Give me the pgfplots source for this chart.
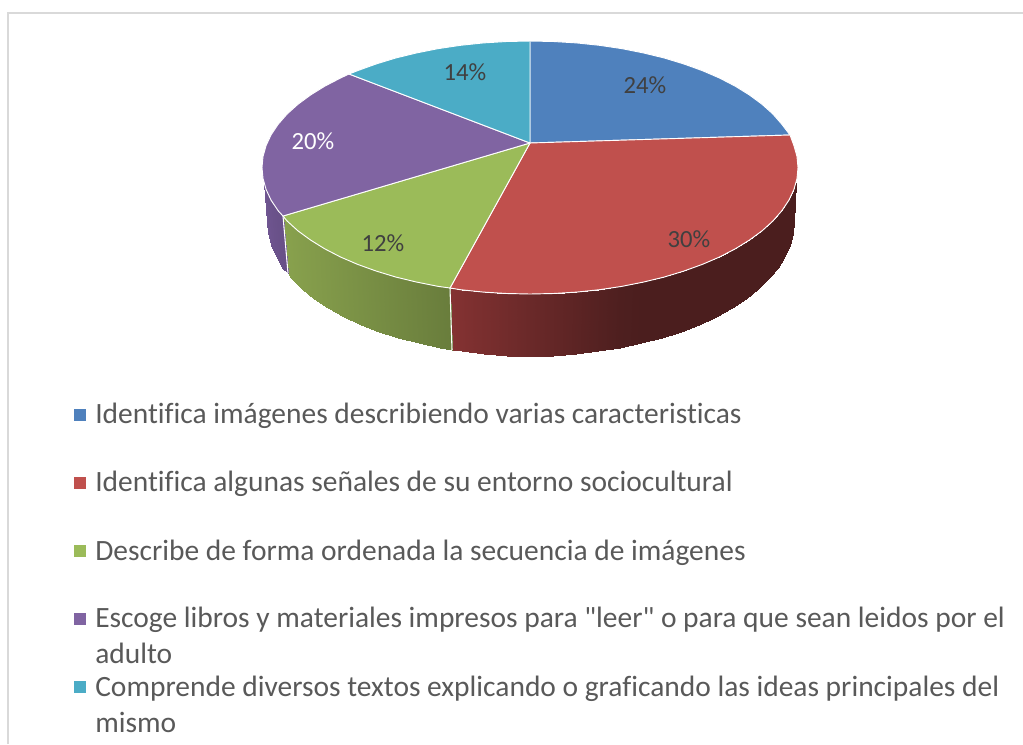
\documentclass[border=0pt]{standalone}
\usepackage{fontspec}
\setmainfont{Carlito}[Ligatures={TeXOff,NoCommon}]
\usepackage{pgfplots}
\pgfplotsset{compat=1.18}

\definecolor{cblue}{RGB}{79,129,189}
\definecolor{cred}{RGB}{192,80,77}
\definecolor{cgreen}{RGB}{155,187,89}
\definecolor{cpurple}{RGB}{128,100,162}
\definecolor{cteal}{RGB}{75,172,198}
\definecolor{labeltxt}{RGB}{64,64,64}
\definecolor{legendtxt}{RGB}{89,89,89}
\definecolor{frameline}{RGB}{217,217,217}

% everything is in reference pixels, y runs downwards
\newcommand{\pct}[3]{\node[text=#3,font=\fontsize{18.5}{21}\selectfont] at (axis cs:#1) {#2};}
\newcommand{\leg}[2]{\node[anchor=base west,text=legendtxt,font=\fontsize{22.1}{26}\selectfont,inner sep=0pt] at (axis cs:#1) {#2};}

\begin{document}
\begin{tikzpicture}
\begin{axis}[
    hide axis,
    scale only axis,
    width=767.25pt,
    height=558pt,
    xmin=0, xmax=1023,
    ymin=0, ymax=744,
    y dir=reverse,
    point meta min=0,
    point meta max=300,
    colormap={side}{
        rgb255(0pt)=(75,30,30) rgb255(100pt)=(132,50,50)
        rgb255(101pt)=(105,125,60) rgb255(200pt)=(136,161,77)
        rgb255(201pt)=(104,80,135) rgb255(300pt)=(112,86,146)
    },
]
% keep the whole canvas in the page
\path (axis cs:0,0) rectangle (axis cs:1023,744);

% frame of the chart area
\addplot[frameline,line width=1.5pt] coordinates {(8,744) (8,13) (1023,13)};

% side walls: top edge, bottom edge, shade
\addplot[surf,shader=interp,mesh/cols=2,point meta=explicit] table[meta=m] {
x y m
796 183 0
793.5 221.5 0
793.9 189.5 0
792.5 233.2 0
788.9 200.2 0
789.5 244.8 0
781.8 210.8 0
784.5 256.3 0
781.8 210.8 0
777.6 267.5 0
772.9 221 0
768.8 278.3 0
762.1 230.8 0
758.2 288.8 0
749.5 240 0
745.9 298.6 0
735.3 248.8 0
731.8 308 0
719.5 257 0
716.3 316.6 0
702.3 264.4 0
699.4 324.5 0
683.7 271.1 0
681.1 331.7 0
664 277.1 0
661.8 338 0
643.3 282.1 0
641.4 343.4 0
621.7 286.4 5
620.1 347.9 5
599.4 289.7 17
598.2 351.4 17
576.5 292.1 30
575.7 354 30
553.4 293.5 43
553 355.5 43
530 294 55
530 356 55
506.6 293.5 68
507 355.5 68
483.5 292.1 81
484.3 354 81
460.6 289.7 94
461.8 351.4 94
450 288 100
452 350 100
};
\addplot[surf,shader=interp,mesh/cols=2,point meta=explicit] table[meta=m] {
x y m
450 288 101
452 350 101
438.3 286.4 108
439.9 347.9 108
416.7 282.1 121
418.6 343.4 121
396 277.1 133
398.2 338 133
376.3 271.1 145
378.9 331.7 145
357.7 264.4 156
360.6 324.5 156
340.5 257 166
343.7 316.6 166
324.7 248.8 176
328.2 308 176
310.5 240 184
314.1 298.6 184
297.9 230.8 191
301.8 288.8 191
287.1 221 198
291.2 278.3 198
283 216 200
288 273.2 200
};
\addplot[surf,shader=interp,mesh/cols=2,point meta=explicit] table[meta=m] {
x y m
283 216 201
288 273.2 201
278.2 210.8 215
282.4 267.5 215
271.1 200.2 240
275.5 256.3 240
266.1 189.5 265
270.5 244.8 265
264 183 290
267.5 233.2 290
264 183 300
266.5 221.5 300
};
\addplot[white,line width=0.8pt] coordinates {(450,288) (452,350)};
\addplot[white,line width=0.8pt] coordinates {(283,216) (288,273.2)};

% top face
\addplot[fill=cblue,draw=white,line width=0.7pt,line join=round] coordinates {
(530,143) (530,41) (553.4,41.5) (576.5,42.9) (599.4,45.3) (621.7,48.6) (643.3,52.9)
(664,57.9) (683.7,63.9) (702.3,70.6) (719.5,78) (735.3,86.2) (749.5,95) (762.1,104.3)
(772.9,114) (781.8,124.2) (790,135)
} --cycle;
\addplot[fill=cred,draw=white,line width=0.7pt,line join=round] coordinates {
(530,143) (790,135) (793.9,145.5) (797,156.5) (798,167.5) (797,178.5) (793.9,189.5)
(788.9,200.2) (781.8,210.8) (772.9,221) (762.1,230.8) (749.5,240) (735.3,248.8)
(719.5,257) (702.3,264.4) (683.7,271.1) (664,277.1) (643.3,282.1) (621.7,286.4)
(599.4,289.7) (576.5,292.1) (553.4,293.5) (530,294) (506.6,293.5) (483.5,292.1)
(460.6,289.7) (450,288)
} --cycle;
\addplot[fill=cgreen,draw=white,line width=0.7pt,line join=round] coordinates {
(530,143) (450,288) (438.3,286.4) (416.7,282.1) (396,277.1) (376.3,271.1) (357.7,264.4)
(340.5,257) (324.7,248.8) (310.5,240) (297.9,230.8) (287.1,221) (283,216)
} --cycle;
\addplot[fill=cpurple,draw=white,line width=0.7pt,line join=round] coordinates {
(530,143) (283,216) (278.2,210.8) (271.1,200.2) (266.1,189.5) (263,178.5) (262,167.5)
(263,156.5) (266.1,145.5) (271.1,134.8) (278.2,124.2) (287.1,114) (297.9,104.3)
(310.5,95) (324.7,86.2) (340.5,78) (349,74)
} --cycle;
\addplot[fill=cteal,draw=white,line width=0.7pt,line join=round] coordinates {
(530,143) (349,74) (357.7,70.6) (376.3,63.9) (396,57.9) (416.7,52.9) (438.3,48.6)
(460.6,45.3) (483.5,42.9) (506.6,41.5) (530,41)
} --cycle;

% legend keys
\addplot[only marks,mark=square*,mark size=4pt,mark options={draw=cblue,fill=cblue}] coordinates {(80,415)};
\addplot[only marks,mark=square*,mark size=4pt,mark options={draw=cred,fill=cred}] coordinates {(80,483)};
\addplot[only marks,mark=square*,mark size=4pt,mark options={draw=cgreen,fill=cgreen}] coordinates {(80,551)};
\addplot[only marks,mark=square*,mark size=4pt,mark options={draw=cpurple,fill=cpurple}] coordinates {(80,619)};
\addplot[only marks,mark=square*,mark size=4pt,mark options={draw=cteal,fill=cteal}] coordinates {(80,687)};

\pct{645,85}{24\%}{labeltxt}
\pct{689,239}{30\%}{labeltxt}
\pct{383,243}{12\%}{labeltxt}
\pct{313,141}{20\%}{white}
\pct{465,72}{14\%}{labeltxt}

\leg{95,423}{Identifica imágenes describiendo varias caracteristicas}
\leg{95,491}{Identifica algunas señales de su entorno sociocultural}
\leg{95,560}{Describe de forma ordenada la secuencia de imágenes}
\leg{95,627}{Escoge libros y materiales impresos para "leer" o para que sean leidos por el}
\leg{95,663}{adulto}
\leg{95,696}{Comprende diversos textos explicando o graficando las ideas principales del}
\leg{95,732}{mismo}
\end{axis}
\end{tikzpicture}
\end{document}
